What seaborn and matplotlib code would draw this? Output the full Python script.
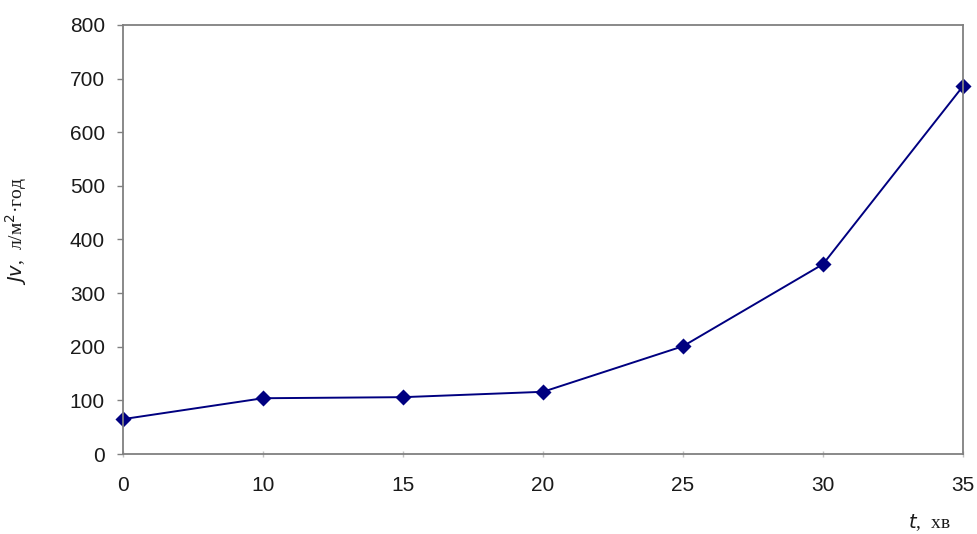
import matplotlib
matplotlib.use("Agg")
import matplotlib.pyplot as plt
import seaborn as sns
import pandas as pd

time_labels = ["0", "10", "15", "20", "25", "30", "35"]
flux_values = [65, 104, 106, 116, 201, 354, 686]

y_ticks = [0, 100, 200, 300, 400, 500, 600, 700, 800]

sns.set_theme(style="white")
plt.rcParams['font.family'] = ['Liberation Sans', 'DejaVu Sans']

df = pd.DataFrame({"t": pd.Categorical(time_labels, categories=time_labels, ordered=True),
                   "Jv": flux_values})

fig = plt.figure(figsize=(9.77, 5.34), dpi=100)
ax = fig.add_axes([0.1259, 0.1498, 0.8598, 0.8034])

sns.pointplot(data=df, x="t", y="Jv", ax=ax, color="#000080", markers="D",
              markersize=7.5, linewidth=1.4, errorbar=None)
for art in ax.lines + ax.collections:
    art.set_clip_on(False)

ax.set_xlim(0, len(time_labels) - 1)
ax.set_ylim(0, 800)
ax.set_yticks(y_ticks)
ax.set_yticklabels([str(v) for v in y_ticks])
ax.set_xlabel("")
ax.set_ylabel("")

for s in ax.spines.values():
    s.set_color("#808080")
    s.set_linewidth(1.3)

ax.tick_params(axis="y", direction="out", length=4, width=1, color="#808080",
               labelsize=15, pad=9, left=True, labelcolor="#1a1a1a")
ax.tick_params(axis="x", direction="inout", length=4, width=1, color="#c0c0c0",
               labelsize=15, pad=14, bottom=True, labelcolor="#1a1a1a")

fig.text(0.016, 0.567, r"$Jv$,  л/м$^2$·год", rotation=90, ha="center", va="center",
         fontsize=14, family=["Liberation Serif", "DejaVu Serif"], color="#1a1a1a")
fig.text(0.951, 0.022, r"$t$,  хв", ha="center", va="center",
         fontsize=14, family=["Liberation Serif", "DejaVu Serif"], color="#1a1a1a")

fig.savefig("out.png", dpi=100)
